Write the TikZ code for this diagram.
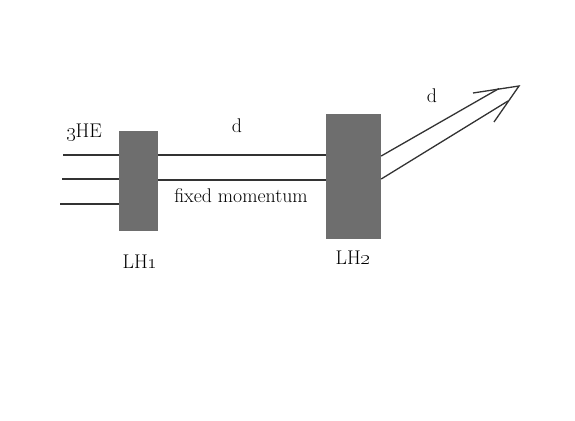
\documentclass[tikz,border=0pt]{standalone}
\begin{document}
\begin{tikzpicture}[x=1pt,y=-1pt,
  holder/.style={draw=none,fill=boxgray,inner sep=0pt,minimum width=#1},
  beam/.style={draw=linegray,line width=1.3pt},
  lbl/.style={anchor=base,inner sep=0pt,font=\fontsize{19.8}{23}\selectfont,text=black}]
\definecolor{boxgray}{HTML}{6E6E6E}
\definecolor{linegray}{HTML}{333333}
\useasboundingbox[fill=white] (0,0) rectangle (575,420);
% holders
\node[holder=39pt,minimum height=100pt] (lh1) at (138.5,181) {};
\node[holder=55pt,minimum height=125pt] (lh2) at (353.5,176.5) {};
% input lines
\coordinate (in1) at (63,155);
\coordinate (in2) at (62,179);
\coordinate (in3) at (60,204);
\draw[beam] (in1) -- (lh1.west |- in1);
\draw[beam] (in2) -- (lh1.west |- in2);
\draw[beam] (in3) -- (lh1.west |- in3);
% middle lines
\draw[beam] (lh1.east |- 0,155) -- (lh2.west |- 0,155);
\draw[beam] (lh1.east |- 0,180) -- (lh2.west |- 0,180);
% outgoing double arrow
\coordinate (tip) at (519,86);
\coordinate (u1) at (499,88.5);
\coordinate (l1) at (508,101);
\coordinate (b1) at (473,93);
\coordinate (b2) at (494,122);
\draw[beam] (lh2.east |- 0,156) -- (u1);
\draw[beam] (lh2.east |- 0,179) -- (l1);
\draw[beam,line join=miter] (b1) -- (tip) -- (b2);
% labels
\node[lbl] (he) at (84,137) {\oldstylenums{3}HE};
\node[lbl] (d1) at (237,132) {d};
\node[lbl] (fm) at (241,202) {fixed momentum};
\node[lbl] (t1) at (140,268) {LH\oldstylenums{1}};
\node[lbl] (t2) at (353,264) {LH\oldstylenums{2}};
\node[lbl] (d2) at (432,102) {d};
\end{tikzpicture}
\end{document}
